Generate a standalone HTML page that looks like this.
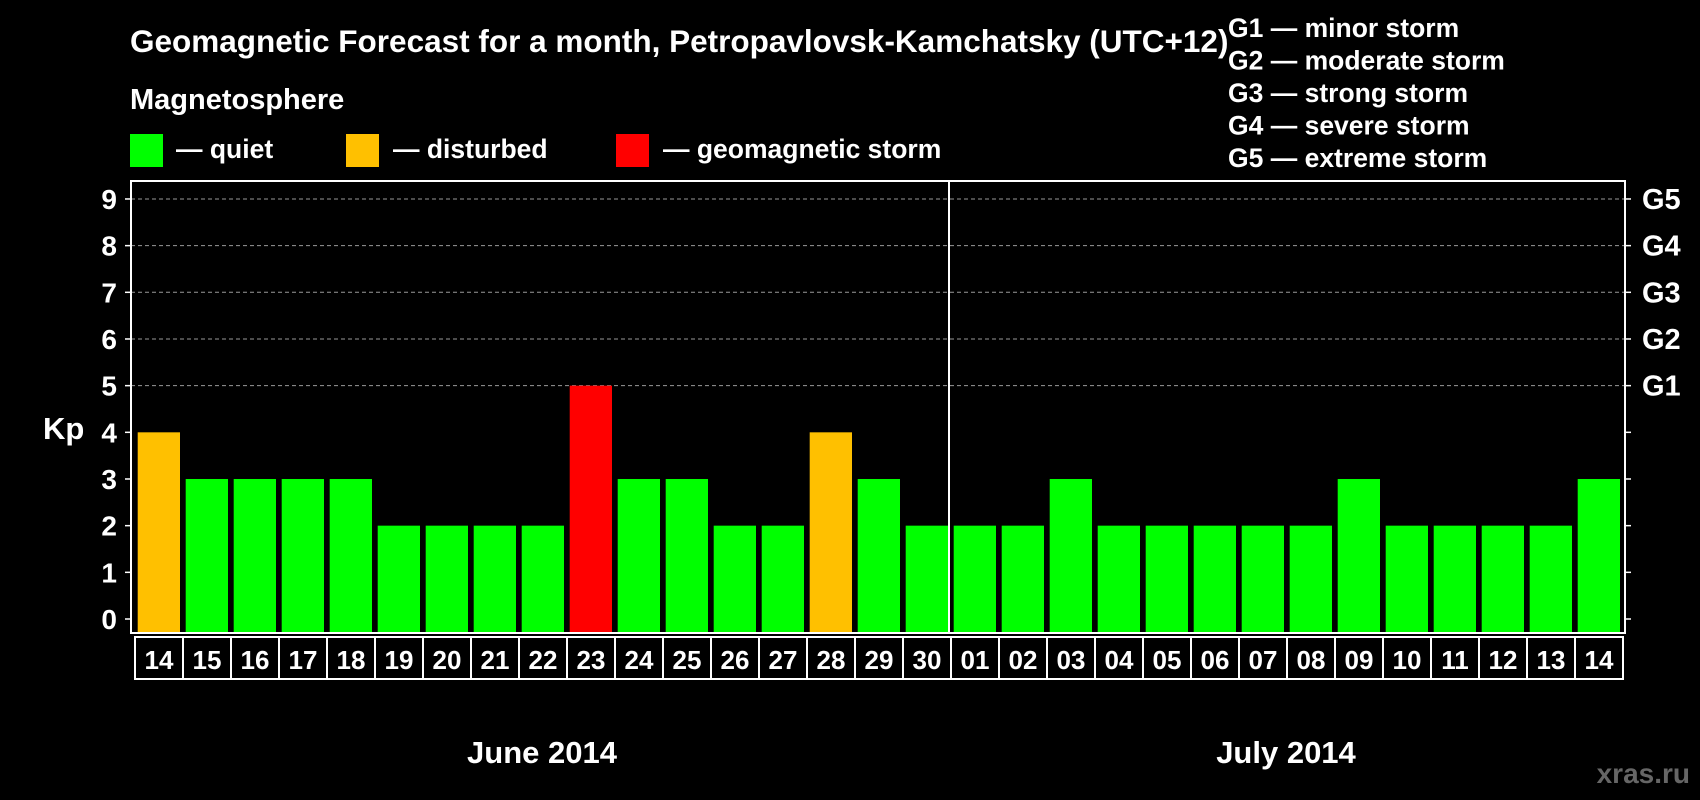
<!DOCTYPE html>
<html><head><meta charset="utf-8">
<style>
html,body{margin:0;padding:0;background:#000;width:1700px;height:800px;overflow:hidden}
svg{display:block;font-family:"Liberation Sans",Arial,sans-serif;font-weight:bold}
</style></head>
<body>
<svg id="chart" width="1700" height="800" viewBox="0 0 1700 800" xmlns="http://www.w3.org/2000/svg">
<rect x="0" y="0" width="1700" height="800" fill="#000"/>
<text x="130" y="52" fill="#fff" font-size="31.5">Geomagnetic Forecast for a month, Petropavlovsk-Kamchatsky (UTC+12)</text>
<text x="130" y="109" fill="#fff" font-size="29">Magnetosphere</text>
<g><rect x="130" y="134" width="33" height="33" fill="#00ff00"/><text x="176" y="158" fill="#fff" font-size="26.5">— quiet</text></g>
<g><rect x="346" y="134" width="33" height="33" fill="#ffc000"/><text x="393" y="158" fill="#fff" font-size="26.5">— disturbed</text></g>
<g><rect x="616" y="134" width="33" height="33" fill="#ff0000"/><text x="663" y="158" fill="#fff" font-size="26.5">— geomagnetic storm</text></g>
<g fill="#fff" font-size="26.5">
<text x="1228" y="37">G1 — minor storm</text>
<text x="1228" y="69.5">G2 — moderate storm</text>
<text x="1228" y="102">G3 — strong storm</text>
<text x="1228" y="134.5">G4 — severe storm</text>
<text x="1228" y="167">G5 — extreme storm</text>
</g>
<g id="grid"></g>
<g id="bars"></g>
<g id="axes"></g>
<text x="43" y="439" fill="#fff" font-size="31">Kp</text>
<text x="542" y="763" fill="#fff" font-size="31" text-anchor="middle">June 2014</text>
<text x="1286" y="763" fill="#fff" font-size="31" text-anchor="middle">July 2014</text>
<text x="1690" y="783" fill="#666" font-size="28" text-anchor="end">xras.ru</text>
</svg>
<script>
const days = ["14","15","16","17","18","19","20","21","22","23","24","25","26","27","28","29","30","01","02","03","04","05","06","07","08","09","10","11","12","13","14"];
const kpValues = [4,3,3,3,3,2,2,2,2,5,3,3,2,2,4,3,2,2,2,3,2,2,2,2,2,3,2,2,2,2,3];
const yTicks = [0,1,2,3,4,5,6,7,8,9];
const gLabels = ["G1","G2","G3","G4","G5"];
const gLevels = [5,6,7,8,9];

const NS = "http://www.w3.org/2000/svg";
const plotL = 131, plotR = 1625, plotT = 181, plotB = 633;
const y0 = 619, unit = 46.67;
const yScale = v => y0 - v * unit;
const slot = 48, firstX = 134;
const xScale = i => firstX + i * slot;
function mk(tag, attrs, parent) {
  const e = document.createElementNS(NS, tag);
  for (const k in attrs) e.setAttribute(k, attrs[k]);
  parent.appendChild(e);
  return e;
}
const grid = document.getElementById('grid');
const bars = document.getElementById('bars');
const axes = document.getElementById('axes');

gLevels.forEach(v => {
  const l = mk('line', {x1: plotL, x2: plotR, y1: yScale(v), y2: yScale(v), stroke: '#999', 'stroke-width': 1, 'stroke-dasharray': '4,3'}, grid);
  
  
});

const colorFor = v => v >= 5 ? '#ff0000' : (v >= 4 ? '#ffc000' : '#00ff00');
kpValues.forEach((v, i) => {
  const r = mk('rect', {x: xScale(i) + 3.7, y: yScale(v), width: 42.3, height: plotB - 1 - yScale(v), fill: colorFor(v)}, bars);
  
  
});

const frame = mk('rect', {x: plotL, y: plotT, width: plotR - plotL, height: plotB - plotT, fill: 'none', stroke: '#fff', 'stroke-width': 2}, axes);


const div = mk('line', {x1: xScale(17) - 1, x2: xScale(17) - 1, y1: plotT, y2: plotB, stroke: '#fff', 'stroke-width': 2}, axes);



yTicks.forEach(v => {
  const y = yScale(v);
  mk('line', {x1: plotL - 6, x2: plotL, y1: y, y2: y, stroke: '#fff', 'stroke-width': 1.5}, axes);
  mk('line', {x1: plotR, x2: plotR + 6, y1: y, y2: y, stroke: '#fff', 'stroke-width': 1.5}, axes);
  const t = mk('text', {x: 117, y: y + 10, fill: '#fff', 'font-size': 28, 'text-anchor': 'end'}, axes);
  t.textContent = v;
  
  
});
gLevels.forEach((v, i) => {
  const t = mk('text', {x: 1642, y: yScale(v) + 10, fill: '#fff', 'font-size': 29}, axes);
  t.textContent = gLabels[i];
  
  
});

days.forEach((d, i) => {
  const x = xScale(i);
  const b = mk('rect', {x: x + 1, y: 637, width: slot, height: 42, fill: 'none', stroke: '#fff', 'stroke-width': 2}, axes);
  
  
  const t = mk('text', {x: x + 1 + slot / 2, y: 669, fill: '#fff', 'font-size': 26, 'text-anchor': 'middle'}, axes);
  t.textContent = d;
  
  
});
</script>
</body></html>
